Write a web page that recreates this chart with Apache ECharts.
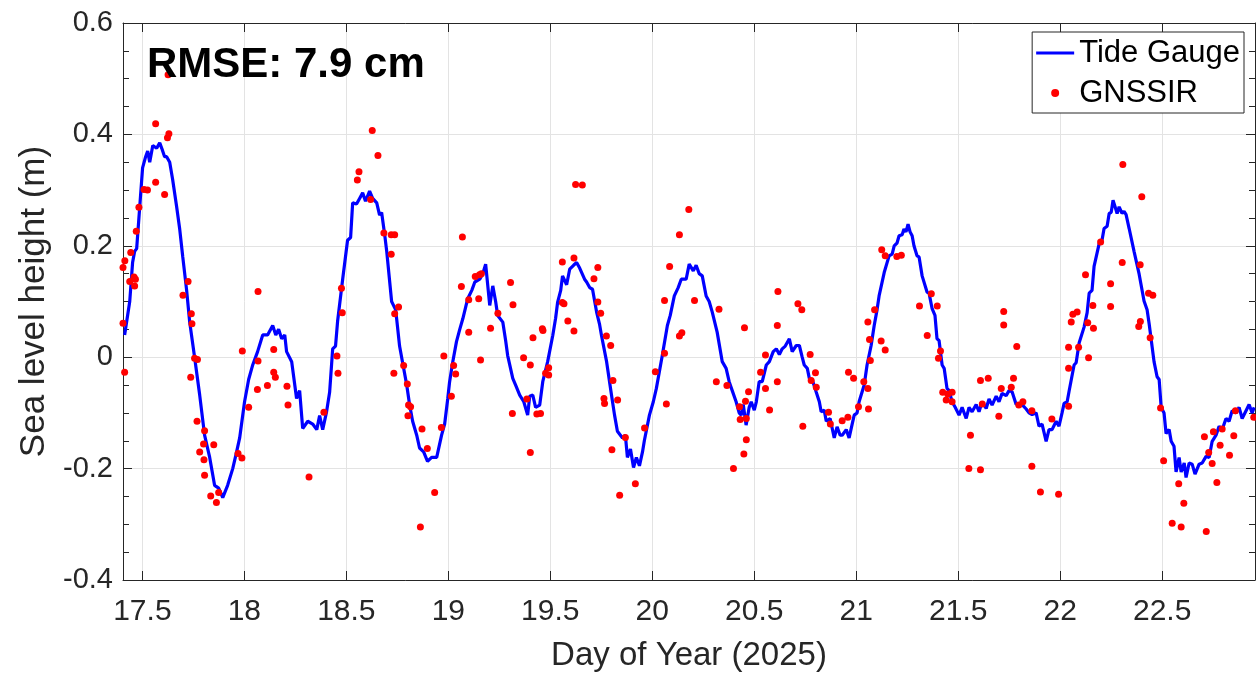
<!DOCTYPE html>
<html>
<head>
	<meta charset="utf-8" />
	<script src="https://cdn.jsdelivr.net/npm/echarts@6/dist/echarts.min.js"></script>
	<style>
		html, body { margin: 0; padding: 0; background: #fff; }
	</style>
</head>
<body>
	<div id="main" style="width: 1256px;height:677px;"></div>

	<script type="text/javascript">
		// tide gauge record [day of year, sea level (m)]
		var tideGauge = [
			[17.413,0.04],[17.438,0.10],[17.452,0.17],[17.462,0.19],[17.472,0.195],[17.487,0.27],[17.501,0.34],[17.516,0.36],
			[17.526,0.37],[17.536,0.35],[17.551,0.38],[17.570,0.375],[17.585,0.385],[17.595,0.375],[17.609,0.36],[17.619,0.36],
			[17.634,0.35],[17.648,0.32],[17.668,0.27],[17.683,0.23],[17.698,0.18],[17.717,0.12],[17.732,0.063],[17.756,0.0],
			[17.781,-0.068],[17.805,-0.14],[17.830,-0.18],[17.854,-0.23],[17.874,-0.235],[17.894,-0.252],[17.918,-0.23],[17.943,-0.2],
			[17.962,-0.17],[17.977,-0.145],[18.001,-0.08],[18.021,-0.04],[18.040,-0.015],[18.065,0.01],[18.090,0.04],[18.114,0.04],
			[18.139,0.057],[18.154,0.04],[18.168,0.05],[18.183,0.033],[18.198,0.04],[18.207,0.01],[18.232,-0.008],[18.256,-0.074],
			[18.271,-0.06],[18.286,-0.128],[18.311,-0.115],[18.335,-0.12],[18.355,-0.13],[18.369,-0.105],[18.384,-0.13],[18.403,-0.098],
			[18.418,-0.063],[18.433,0.015],[18.447,0.02],[18.457,0.064],[18.482,0.14],[18.506,0.21],[18.521,0.215],[18.531,0.277],
			[18.550,0.275],[18.565,0.285],[18.580,0.295],[18.594,0.28],[18.614,0.298],[18.629,0.285],[18.649,0.277],[18.663,0.255],
			[18.673,0.26],[18.688,0.22],[18.698,0.19],[18.722,0.10],[18.742,0.085],[18.761,0.02],[18.776,-0.01],[18.796,-0.05],
			[18.810,-0.085],[18.825,-0.115],[18.845,-0.14],[18.859,-0.163],[18.879,-0.17],[18.898,-0.187],[18.918,-0.18],[18.943,-0.18],
			[18.967,-0.14],[18.982,-0.12],[18.997,-0.075],[19.006,-0.045],[19.021,-0.01],[19.040,0.028],[19.056,0.05],[19.071,0.069],
			[19.085,0.09],[19.095,0.105],[19.115,0.12],[19.130,0.135],[19.154,0.14],[19.169,0.15],[19.183,0.167],[19.203,0.093],
			[19.218,0.128],[19.232,0.1],[19.242,0.075],[19.267,0.063],[19.281,0.03],[19.291,0.003],[19.316,-0.038],[19.330,-0.05],
			[19.350,-0.068],[19.370,-0.08],[19.389,-0.104],[19.399,-0.07],[19.414,-0.068],[19.428,-0.09],[19.448,-0.086],[19.463,-0.044],
			[19.487,-0.008],[19.512,0.039],[19.526,0.07],[19.536,0.099],[19.551,0.12],[19.560,0.146],[19.580,0.13],[19.595,0.158],
			[19.614,0.165],[19.629,0.17],[19.644,0.16],[19.653,0.158],[19.668,0.14],[19.678,0.135],[19.693,0.125],[19.707,0.122],
			[19.727,0.081],[19.741,0.06],[19.751,0.039],[19.776,-0.008],[19.800,-0.068],[19.815,-0.104],[19.829,-0.133],[19.854,-0.145],
			[19.868,-0.14],[19.878,-0.18],[19.893,-0.165],[19.908,-0.198],[19.922,-0.18],[19.937,-0.195],[19.952,-0.17],[19.961,-0.15],
			[19.986,-0.104],[20.005,-0.08],[20.020,-0.056],[20.049,0.003],[20.074,0.057],[20.088,0.075],[20.108,0.11],[20.127,0.125],
			[20.142,0.14],[20.166,0.14],[20.181,0.167],[20.201,0.155],[20.215,0.165],[20.230,0.15],[20.245,0.146],[20.264,0.11],
			[20.279,0.1],[20.294,0.081],[20.318,0.045],[20.343,-0.008],[20.362,-0.02],[20.377,-0.044],[20.392,-0.06],[20.411,-0.08],
			[20.426,-0.1],[20.436,-0.104],[20.446,-0.085],[20.460,-0.122],[20.475,-0.09],[20.485,-0.08],[20.500,-0.095],[20.510,-0.08],
			[20.524,-0.044],[20.539,-0.044],[20.559,-0.014],[20.574,-0.008],[20.593,0.01],[20.608,0.015],[20.623,0.005],[20.637,0.015],
			[20.652,0.02],[20.672,0.033],[20.686,0.01],[20.706,0.021],[20.721,0.021],[20.735,0.0],[20.745,-0.014],[20.760,-0.02],
			[20.770,-0.038],[20.784,-0.04],[20.804,-0.063],[20.819,-0.08],[20.828,-0.098],[20.843,-0.095],[20.853,-0.115],[20.872,-0.11],
			[20.892,-0.145],[20.906,-0.125],[20.921,-0.14],[20.931,-0.14],[20.951,-0.13],[20.965,-0.145],[20.980,-0.12],[20.990,-0.104],
			[21.004,-0.1],[21.014,-0.08],[21.039,-0.05],[21.053,-0.014],[21.073,0.021],[21.088,0.057],[21.102,0.085],[21.112,0.11],
			[21.137,0.152],[21.161,0.182],[21.176,0.185],[21.186,0.2],[21.200,0.205],[21.210,0.218],[21.225,0.22],[21.234,0.23],
			[21.244,0.225],[21.254,0.239],[21.264,0.225],[21.274,0.218],[21.283,0.2],[21.298,0.182],[21.308,0.18],[21.323,0.146],
			[21.347,0.117],[21.357,0.115],[21.372,0.087],[21.386,0.075],[21.396,0.033],[21.406,0.03],[21.421,-0.014],[21.431,-0.02],
			[21.445,-0.056],[21.455,-0.06],[21.470,-0.08],[21.485,-0.09],[21.504,-0.104],[21.519,-0.09],[21.539,-0.11],[21.553,-0.09],
			[21.568,-0.098],[21.588,-0.085],[21.602,-0.098],[21.617,-0.08],[21.637,-0.092],[21.651,-0.075],[21.666,-0.086],[21.686,-0.07],
			[21.700,-0.08],[21.715,-0.065],[21.735,-0.069],[21.749,-0.06],[21.764,-0.062],[21.784,-0.085],[21.798,-0.083],[21.813,-0.085],
			[21.833,-0.093],[21.847,-0.1],[21.862,-0.103],[21.882,-0.1],[21.896,-0.124],[21.911,-0.12],[21.931,-0.151],[21.945,-0.13],
			[21.960,-0.13],[21.980,-0.115],[21.994,-0.124],[22.009,-0.1],[22.019,-0.083],[22.034,-0.08],[22.043,-0.062],[22.068,-0.014],
			[22.078,-0.01],[22.093,0.026],[22.117,0.054],[22.132,0.08],[22.142,0.115],[22.156,0.12],[22.166,0.163],[22.191,0.204],
			[22.205,0.21],[22.215,0.231],[22.230,0.235],[22.240,0.258],[22.250,0.26],[22.259,0.282],[22.269,0.27],[22.279,0.258],
			[22.289,0.27],[22.303,0.258],[22.313,0.262],[22.323,0.256],[22.338,0.231],[22.362,0.19],[22.387,0.149],[22.411,0.101],
			[22.426,0.085],[22.436,0.06],[22.460,-0.008],[22.475,-0.035],[22.485,-0.04],[22.495,-0.09],[22.509,-0.1],[22.519,-0.137],
			[22.534,-0.13],[22.544,-0.151],[22.558,-0.16],[22.568,-0.206],[22.583,-0.18],[22.593,-0.206],[22.608,-0.19],[22.617,-0.216],
			[22.632,-0.19],[22.647,-0.192],[22.661,-0.21],[22.681,-0.192],[22.696,-0.19],[22.715,-0.178],[22.730,-0.18],[22.745,-0.151],
			[22.764,-0.14],[22.779,-0.124],[22.794,-0.13],[22.813,-0.11],[22.828,-0.115],[22.843,-0.096],[22.862,-0.1],[22.877,-0.09],
			[22.892,-0.11],[22.911,-0.096],[22.926,-0.085],[22.941,-0.1],[22.951,-0.09]
		];

		// GNSS-IR retrievals [day of year, sea level (m)]
		var gnssir = [
			[17.405,0.161],[17.405,0.061],[17.413,-0.027],[17.414,0.173],[17.438,0.136],[17.443,0.188],[17.459,0.144],[17.462,0.128],
			[17.466,0.14],[17.470,0.226],[17.483,0.269],[17.508,0.301],[17.525,0.300],[17.565,0.419],[17.565,0.314],[17.609,0.292],
			[17.623,0.394],[17.630,0.401],[17.626,0.507],[17.699,0.111],[17.724,0.136],[17.737,-0.036],[17.740,0.078],[17.743,0.060],
			[17.756,-0.002],[17.770,-0.004],[17.768,-0.115],[17.781,-0.170],[17.800,-0.156],[17.802,-0.184],[17.805,-0.132],[17.805,-0.212],
			[17.835,-0.249],[17.850,-0.157],[17.863,-0.261],[17.874,-0.243],[17.969,-0.173],[17.988,-0.181],[17.990,0.011],[18.021,-0.090],
			[18.064,-0.058],[18.067,-0.007],[18.067,0.118],[18.113,-0.051],[18.144,0.014],[18.144,-0.027],[18.152,-0.036],[18.209,-0.052],
			[18.214,-0.086],[18.317,-0.215],[18.390,-0.099],[18.454,0.002],[18.459,-0.029],[18.476,0.124],[18.480,0.080],[18.554,0.318],
			[18.562,0.333],[18.619,0.283],[18.627,0.407],[18.655,0.362],[18.684,0.223],[18.720,0.220],[18.737,0.220],[18.720,0.185],
			[18.733,-0.029],[18.737,0.078],[18.756,0.090],[18.781,-0.015],[18.799,-0.048],[18.802,-0.105],[18.805,-0.086],[18.815,-0.089],
			[18.863,-0.305],[18.871,-0.129],[18.897,-0.164],[18.933,-0.243],[18.966,-0.126],[18.978,0.002],[19.015,-0.070],[19.026,-0.015],
			[19.036,-0.030],[19.064,0.127],[19.069,0.216],[19.100,0.103],[19.100,0.045],[19.132,0.145],[19.149,0.105],[19.153,0.148],
			[19.158,-0.005],[19.162,0.150],[19.207,0.052],[19.243,0.079],[19.305,0.134],[19.314,-0.101],[19.317,0.094],[19.369,-0.001],
			[19.385,-0.075],[19.402,-0.014],[19.402,-0.171],[19.415,0.035],[19.434,-0.102],[19.452,-0.101],[19.461,0.051],[19.464,0.048],
			[19.477,-0.029],[19.492,-0.032],[19.492,-0.019],[19.559,0.171],[19.559,0.098],[19.567,0.096],[19.586,0.065],[19.616,0.047],
			[19.616,0.178],[19.624,0.310],[19.657,0.309],[19.714,0.141],[19.733,0.161],[19.733,0.099],[19.747,0.079],[19.763,-0.074],
			[19.766,-0.083],[19.775,0.038],[19.796,0.021],[19.802,-0.166],[19.807,-0.042],[19.830,-0.077],[19.840,-0.248],[19.868,-0.144],
			[19.917,-0.227],[19.962,-0.127],[20.015,-0.026],[20.060,0.007],[20.060,0.102],[20.069,-0.084],[20.085,0.163],[20.133,0.220],
			[20.133,0.038],[20.145,0.044],[20.179,0.265],[20.207,0.102],[20.314,-0.044],[20.327,0.086],[20.366,-0.051],[20.398,-0.200],
			[20.428,-0.089],[20.431,-0.112],[20.449,-0.174],[20.452,0.053],[20.457,-0.079],[20.461,-0.148],[20.461,-0.110],[20.472,-0.062],
			[20.531,-0.027],[20.555,0.004],[20.555,-0.056],[20.575,-0.095],[20.613,0.057],[20.613,-0.044],[20.616,0.118],[20.714,0.096],
			[20.733,0.085],[20.738,-0.124],[20.774,0.005],[20.779,-0.042],[20.800,-0.028],[20.804,-0.054],[20.864,-0.099],[20.873,-0.120],
			[20.931,-0.114],[20.959,-0.108],[20.962,-0.027],[20.987,-0.038],[21.011,-0.089],[21.037,-0.044],[21.057,-0.056],[21.057,0.063],
			[21.060,-0.093],[21.065,0.032],[21.069,-0.006],[21.090,0.085],[21.122,0.029],[21.125,0.193],[21.142,0.013],[21.142,0.182],
			[21.199,0.181],[21.221,0.183],[21.310,0.092],[21.348,0.039],[21.368,0.114],[21.397,0.092],[21.403,-0.002],[21.413,0.011],
			[21.424,-0.063],[21.441,-0.077],[21.449,-0.066],[21.470,-0.063],[21.470,-0.080],[21.552,-0.200],[21.560,-0.140],[21.609,-0.202],
			[21.609,-0.042],[21.618,-0.084],[21.647,-0.038],[21.699,-0.106],[21.711,-0.056],[21.723,0.082],[21.723,0.058],[21.760,-0.054],
			[21.771,-0.038],[21.787,0.019],[21.797,-0.086],[21.817,-0.080],[21.861,-0.096],[21.861,-0.196],[21.903,-0.242],[21.959,-0.111],
			[21.992,-0.246],[22.041,-0.088],[22.041,-0.020],[22.041,0.018],[22.054,0.063],[22.062,0.077],[22.083,0.081],[22.090,0.018],
			[22.124,0.148],[22.135,0.062],[22.139,-0.001],[22.160,0.093],[22.163,0.052],[22.198,0.207],[22.247,0.132],[22.247,0.091],
			[22.304,0.170],[22.307,0.346],[22.385,0.055],[22.392,0.166],[22.393,0.064],[22.400,0.288],[22.433,0.115],[22.441,0.035],
			[22.454,0.111],[22.492,-0.091],[22.507,-0.186],[22.549,-0.298],[22.581,-0.227],[22.593,-0.305],[22.606,-0.262],[22.707,-0.143],
			[22.716,-0.313],[22.728,-0.171],[22.745,-0.191],[22.751,-0.134],[22.768,-0.225],[22.784,-0.158],[22.794,-0.129],[22.830,-0.176],
			[22.851,-0.141],[22.859,-0.096],[22.949,-0.108]
		];

		var dayTicks = [17.5, 18, 18.5, 19, 19.5, 20, 20.5, 21, 21.5, 22, 22.5];
		var dayMin = 17.405, dayMax = 22.955;

		var font = "'Liberation Sans', Arial, Helvetica, sans-serif";
		var textColor = '#262626';
		var gridColor = '#e3e3e3';

		var myChart = echarts.init(document.getElementById('main'));

		var xBase = {
			type: 'value',
			min: dayMin,
			max: dayMax,
			axisLine: { show: true, onZero: false, lineStyle: { color: textColor, width: 1 } },
			axisTick: { show: true, inside: true, length: 9, customValues: dayTicks, lineStyle: { color: textColor } },
			splitLine: { show: false }
		};

		var yBase = {
			type: 'value',
			min: -0.4,
			max: 0.6,
			interval: 0.2,
			axisLine: { show: true, onZero: false, lineStyle: { color: textColor, width: 1 } },
			axisTick: { show: true, inside: true, length: 9, lineStyle: { color: textColor } },
			minorTick: { show: true, splitNumber: 4, length: 6, lineStyle: { color: textColor } },
			splitLine: { show: false }
		};

		var option = {
			animation: false,
			backgroundColor: '#fff',
			grid: { left: 123, right: 1, top: 23, bottom: 94 },
			graphic: [{
				type: 'text',
				left: 147,
				top: 44,
				z: 100,
				style: { text: 'RMSE: 7.9 cm', font: 'bold 42px ' + font, fill: '#000' }
			}],
			legend: {
				orient: 'vertical',
				right: 12,
				top: 32,
				padding: [3, 4, 2, 4],
				itemGap: 4,
				itemWidth: 38,
				itemHeight: 8,
				borderColor: '#262626',
				borderWidth: 1,
				borderRadius: 0,
				backgroundColor: '#fff',
				textStyle: { fontFamily: font, fontSize: 31, color: '#000', lineHeight: 36 },
				data: [
					{ name: 'Tide Gauge', icon: 'path://M0,0H38V3H0Z' },
					{ name: 'GNSSIR', icon: 'circle' }
				]
			},
			xAxis: [
				Object.assign({}, xBase, {
					position: 'bottom',
					name: 'Day of Year (2025)',
					nameLocation: 'middle',
					nameGap: 59,
					nameTextStyle: { fontFamily: font, fontSize: 33, color: textColor },
					axisLabel: {
						show: true, customValues: dayTicks, margin: 17,
						fontFamily: font, fontSize: 30, color: textColor
					},
					splitLine: { show: true, lineStyle: { color: gridColor, width: 1 } }
				}),
				Object.assign({}, xBase, { position: 'top', axisLabel: { show: false } })
			],
			yAxis: [
				Object.assign({}, yBase, {
					position: 'left',
					name: 'Sea level height (m)',
					nameLocation: 'middle',
					nameGap: 66,
					nameRotate: 90,
					nameTextStyle: { fontFamily: font, fontSize: 35, color: textColor },
					axisLabel: {
						show: true, margin: 10, fontFamily: font, fontSize: 29, color: textColor,
						formatter: function (v) { return v === 0 ? '0' : v.toFixed(1); }
					},
					splitLine: { show: true, lineStyle: { color: gridColor, width: 1 } }
				}),
				Object.assign({}, yBase, { position: 'right', axisLabel: { show: false } })
			],
			series: [
				{
					name: 'Tide Gauge',
					type: 'line',
					xAxisIndex: 0,
					yAxisIndex: 0,
					data: tideGauge,
					symbol: 'none',
					showSymbol: false,
					lineStyle: { color: '#0000ff', width: 3.2 },
					itemStyle: { color: '#0000ff' },
					z: 2
				},
				{
					name: 'GNSSIR',
					type: 'scatter',
					xAxisIndex: 0,
					yAxisIndex: 0,
					data: gnssir,
					symbolSize: 7,
					itemStyle: { color: '#ff0000', opacity: 1 },
					z: 3
				}
			]
		};

		myChart.setOption(option);
	</script>
</body>
</html>
